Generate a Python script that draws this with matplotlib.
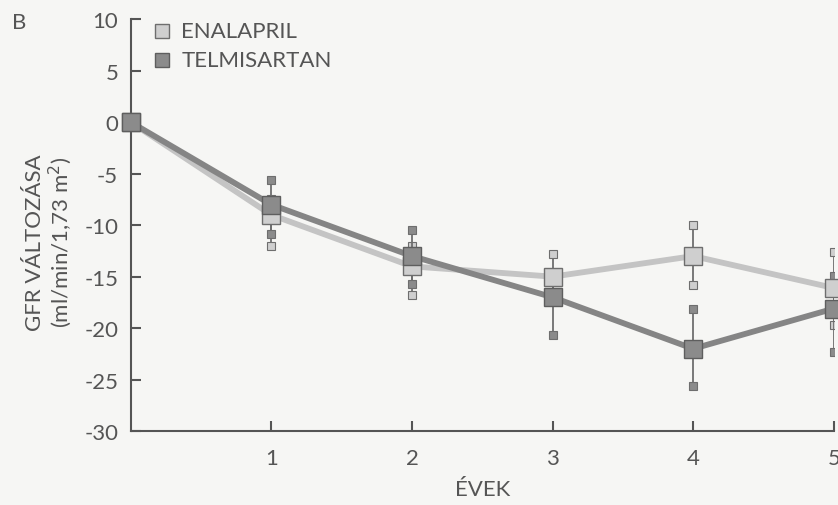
import numpy as np
import matplotlib
matplotlib.use("Agg")
import matplotlib.pyplot as plt

plt.rcParams['font.family'] = ['Lato', 'DejaVu Sans']
plt.rcParams['axes.unicode_minus'] = False

# years
years = [0, 1, 2, 3, 4, 5]

# enalapril: mean, lower and upper error limits
enal_mean = [0, -9.0, -14.0, -15.0, -13.0, -16.1]
enal_low = [0, -12.0, -16.8, -17.2, -15.8, -19.7]
enal_high = [0, -7.5, -12.0, -12.8, -10.0, -12.6]

# telmisartan
telm_mean = [0, -8.0, -13.0, -17.0, -22.0, -18.1]
telm_low = [0, -10.9, -15.7, -20.7, -25.6, -22.3]
telm_high = [0, -5.6, -10.5, -14.8, -18.1, -14.9]

labels = ["ENALAPRIL", "TELMISARTAN"]
light = "#cfcfcf"
dark = "#8b8b8b"
txt = "#555555"
fs = 16

fig = plt.figure(figsize=(8.38, 5.06), dpi=100)
fig.patch.set_facecolor("#f6f6f4")
ax = fig.add_axes([0.156, 0.146, 0.839, 0.814])
ax.set_facecolor("#f6f6f4")

# error bars (lines + small square caps), behind everything
for mean, lo, hi, col in [(enal_mean, enal_low, enal_high, light),
                          (telm_mean, telm_low, telm_high, dark)]:
    for i in range(1, len(years)):
        ax.plot([years[i], years[i]], [lo[i], hi[i]], color="#6e6e6e", lw=1.3, zorder=2)
    ax.plot(years[1:], lo[1:], "s", ms=5.5, mfc=col, mec="#6e6e6e", mew=0.8, zorder=2)
    ax.plot(years[1:], hi[1:], "s", ms=5.5, mfc=col, mec="#6e6e6e", mew=0.8, zorder=2)

# lines
ax.plot(years, enal_mean, color="#c4c4c4", lw=4.2, zorder=3, solid_capstyle="butt")
ax.plot(years, telm_mean, color="#858585", lw=4.2, zorder=4, solid_capstyle="butt")

# boxes
ax.plot(years, enal_mean, "s", ms=12.5, mfc=light, mec="#6e6e6e", mew=1.0, zorder=5, clip_on=False)
ax.plot(years, telm_mean, "s", ms=12.5, mfc=dark, mec="#5e5e5e", mew=1.0, zorder=6, clip_on=False)

ax.set_xlim(0, 5)
ax.set_ylim(-30, 10)
ax.set_xticks([1, 2, 3, 4, 5])
ax.set_yticks(np.arange(-30, 11, 5))
ax.tick_params(direction="in", length=7, width=1.5, color=txt, labelcolor=txt, labelsize=fs)
ax.tick_params(axis="y", pad=9)
ax.tick_params(axis="x", pad=12)
for s in ["top", "right"]:
    ax.spines[s].set_visible(False)
for s in ["left", "bottom"]:
    ax.spines[s].set_color(txt)
    ax.spines[s].set_linewidth(1.5)

ax.set_xlabel("ÉVEK", color=txt, fontsize=fs, labelpad=8)
fig.text(0.042, 0.52, "GFR VÁLTOZÁSA", rotation=90, ha="center", va="center", color=txt, fontsize=fs)
fig.text(0.072, 0.52, "(ml/min/1,73 m$^2$)", rotation=90, ha="center", va="center", color=txt, fontsize=fs)
fig.text(0.014, 0.955, "B", color=txt, fontsize=fs, va="center")

# legend
ax.plot([0.22], [8.9], "s", ms=10, mfc=light, mec="#6e6e6e", mew=1.0, clip_on=False)
ax.plot([0.22], [6.0], "s", ms=10, mfc=dark, mec="#5e5e5e", mew=1.0, clip_on=False)
ax.text(0.36, 8.9, labels[0], va="center", color=txt, fontsize=fs)
ax.text(0.36, 6.0, labels[1], va="center", color=txt, fontsize=fs)

fig.savefig("out.png", dpi=100, facecolor=fig.get_facecolor())
